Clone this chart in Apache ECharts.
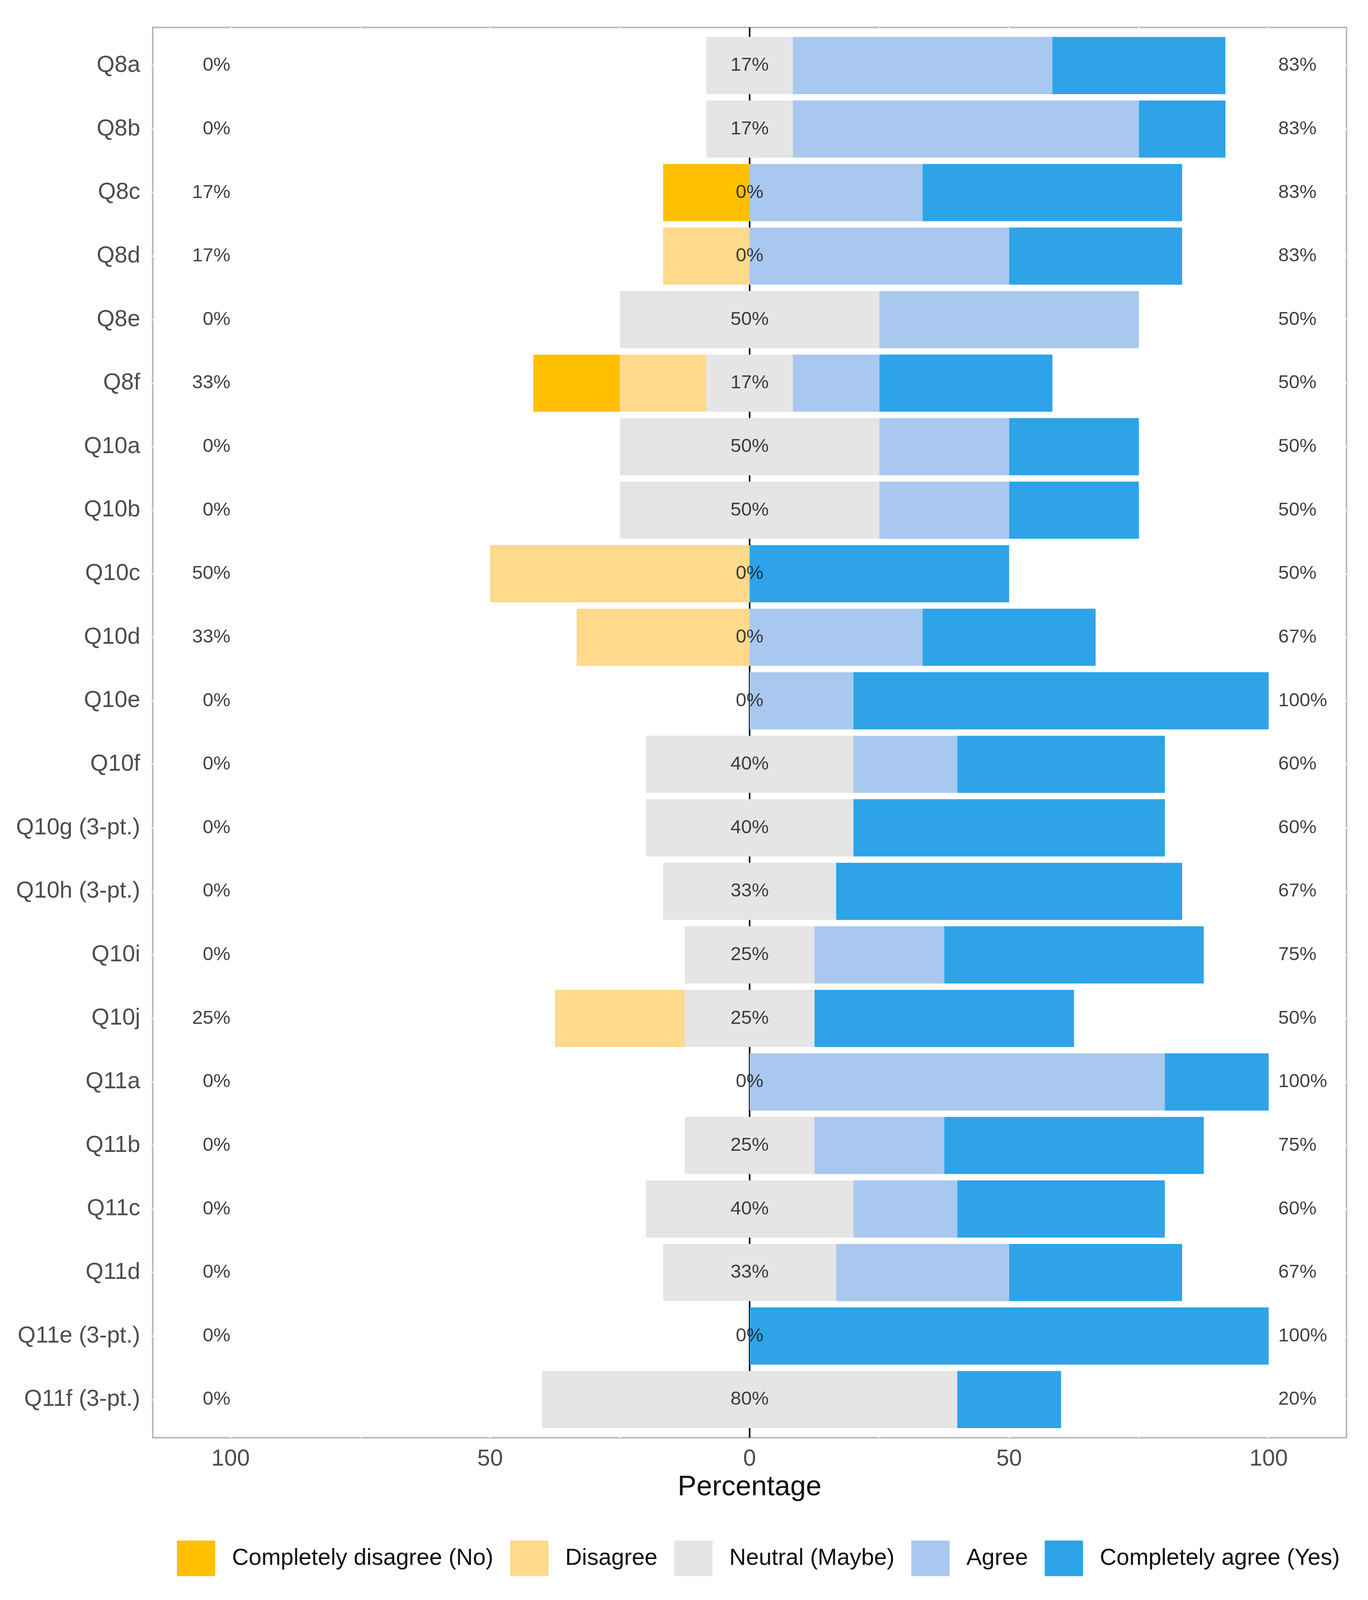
<!DOCTYPE html>
<html>
<head>
<meta charset="utf-8">
<title>Likert chart</title>
<script src="https://cdn.jsdelivr.net/npm/echarts@6/dist/echarts.min.js"></script>
<style>
  html, body { margin: 0; padding: 0; background: #fff; overflow: hidden; }
  #chart { width: 100vw; height: 100vh; }
</style>
</head>
<body>
<div id="chart"></div>
<script>
// survey items, top to bottom
const categories = ['Q8a', 'Q8b', 'Q8c', 'Q8d', 'Q8e', 'Q8f', 'Q10a', 'Q10b', 'Q10c', 'Q10d', 'Q10e',
  'Q10f', 'Q10g (3-pt.)', 'Q10h (3-pt.)', 'Q10i', 'Q10j', 'Q11a', 'Q11b', 'Q11c', 'Q11d',
  'Q11e (3-pt.)', 'Q11f (3-pt.)'];

// percent of answers per level
const completelyDisagree = [0, 0, 16.67, 0, 0, 16.67, 0, 0, 0, 0, 0, 0, 0, 0, 0, 0, 0, 0, 0, 0, 0, 0];
const disagree = [0, 0, 0, 16.67, 0, 16.67, 0, 0, 50, 33.33, 0, 0, 0, 0, 0, 25, 0, 0, 0, 0, 0, 0];
const neutral = [16.67, 16.67, 0, 0, 50, 16.67, 50, 50, 0, 0, 0, 40, 40, 33.33, 25, 25, 0, 25, 40, 33.33, 0, 80];
const agree = [50, 66.67, 33.33, 50, 50, 16.67, 25, 25, 0, 33.33, 20, 20, 0, 0, 25, 0, 80, 25, 20, 33.33, 0, 0];
const completelyAgree = [33.33, 16.67, 50, 33.33, 0, 33.33, 25, 25, 50, 33.33, 80, 40, 60, 66.67, 50, 50, 20, 50, 40, 33.33, 100, 20];

const levels = ['Completely disagree (No)', 'Disagree', 'Neutral (Maybe)', 'Agree', 'Completely agree (Yes)'];
const colors = ['#FFC000', '#FFD98C', '#E5E5E5', '#A9C8EF', '#2EA3E8'];

const xTicks = [-100, -50, 0, 50, 100];

const FONT = 'Liberation Sans, Arial, sans-serif';

const el = document.getElementById('chart');
const chart = echarts.init(el);

function tickRange(min, max, step) {
  const out = [];
  for (let v = min; v <= max + 1e-9; v += step) out.push(v);
  return out;
}
// white grid lines only show where they cross the grey panel border
const frameXColors = tickRange(-115, 115, 5).map(v => (v % 25 === 0 && v !== 0) ? '#ffffff' : 'rgba(0,0,0,0)');
const frameYColors = tickRange(4, 226, 2).map(v => (v % 10 === 0) ? '#ffffff' : 'rgba(0,0,0,0)');

const leftTotal = categories.map((c, i) => completelyDisagree[i] + disagree[i]);
const rightTotal = categories.map((c, i) => agree[i] + completelyAgree[i]);

function bar(name, values, color) {
  return {
    name: name,
    type: 'bar',
    stack: 'likert',
    xAxisIndex: 0,
    yAxisIndex: 0,
    barCategoryGap: '10%',
    itemStyle: { color: color },
    z: 2,
    data: values,
  };
}

function percentLabels(x, values, position, distance) {
  return {
    type: 'scatter',
    xAxisIndex: 0,
    yAxisIndex: 0,
    symbolSize: 1,
    itemStyle: { color: 'rgba(0,0,0,0)' },
    silent: true,
    z: 4,
    label: {
      show: true,
      position: position,
      distance: distance,
      fontFamily: FONT,
      fontSize: 49,
      color: '#111111',
      formatter: p => Math.round(p.value[2]) + '%',
    },
    data: categories.map((c, i) => [x, c, values[i]]),
  };
}

function createOptions() {
  // layout was measured on a 4495px tall page; squeeze it to the real height
  const H = el.clientHeight || 4495;
  const sy = H / 4495;

  return {
    animation: false,
    backgroundColor: '#ffffff',
    textStyle: { fontFamily: FONT },
    grid: [
      // bars (ggplot keeps 0.6 of a row free above and below)
      { left: 391, right: 55, top: 94.85 * sy, bottom: 473.85 * sy },
      // panel frame
      { left: 391, right: 55, top: 77 * sy, bottom: 456 * sy, show: true, borderColor: '#b8b8b8',
        borderWidth: 4, backgroundColor: 'rgba(0,0,0,0)' },
    ],
    legend: {
      data: levels,
      left: 453,
      top: 4328 * sy,
      padding: 0,
      icon: 'rect',
      itemWidth: 98,
      itemHeight: 100 * sy,
      itemGap: 43,
      textStyle: { fontFamily: FONT, fontSize: 59, color: '#111111', padding: [0, 0, 0, 38] },
      selectedMode: false,
    },
    xAxis: [
      {
        type: 'value',
        gridIndex: 0,
        min: -115,
        max: 115,
        interval: 5,
        axisLine: { show: false },
        axisTick: { show: false },
        splitLine: { show: false },
        axisLabel: {
          margin: 46 * sy,
          fontFamily: FONT,
          fontSize: 59,
          color: '#4d4d4d',
          formatter: v => xTicks.includes(v) ? String(Math.abs(v)) : '',
        },
        name: 'Percentage',
        nameLocation: 'middle',
        nameGap: 118 * sy,
        nameTextStyle: { fontFamily: FONT, fontSize: 72, color: '#111111' },
      },
      {
        type: 'value',
        gridIndex: 1,
        min: -115,
        max: 115,
        interval: 5,
        axisLine: { show: false },
        axisTick: { show: false },
        axisLabel: { show: false },
        splitLine: { show: true, lineStyle: { color: frameXColors, width: 5 } },
      },
    ],
    yAxis: [
      {
        type: 'category',
        gridIndex: 0,
        data: categories,
        inverse: true,
        axisLine: { show: false },
        axisTick: { show: false },
        axisLabel: { margin: 32, fontFamily: FONT, fontSize: 59, color: '#4d4d4d' },
      },
      {
        type: 'value',
        gridIndex: 1,
        min: 4,
        max: 226,
        interval: 2,
        axisLine: { show: false },
        axisTick: { show: false },
        axisLabel: { show: false },
        splitLine: { show: true, lineStyle: { color: frameYColors, width: 5 } },
      },
    ],
    series: [
      // zero line across the whole panel, under the bars
      {
        type: 'line',
        xAxisIndex: 1,
        yAxisIndex: 1,
        data: [],
        silent: true,
        z: 1,
        markLine: {
          z: 1,
          silent: true,
          symbol: ['none', 'none'],
          label: { show: false },
          lineStyle: { type: 'solid', color: '#000000', width: 4 },
          data: [{ xAxis: 0 }],
        },
      },
      bar(levels[2], neutral.map(v => -v / 2), colors[2]),
      bar(levels[2], neutral.map(v => v / 2), colors[2]),
      bar(levels[1], disagree.map(v => -v), colors[1]),
      bar(levels[3], agree, colors[3]),
      bar(levels[0], completelyDisagree.map(v => -v), colors[0]),
      bar(levels[4], completelyAgree, colors[4]),
      percentLabels(-100, leftTotal, 'left', 0),
      percentLabels(0, neutral, 'inside', 0),
      percentLabels(100, rightTotal, 'right', 24),
    ],
  };
}

chart.setOption(createOptions());

window.addEventListener('resize', () => {
  chart.resize();
  chart.setOption(createOptions());
});
</script>
</body>
</html>
